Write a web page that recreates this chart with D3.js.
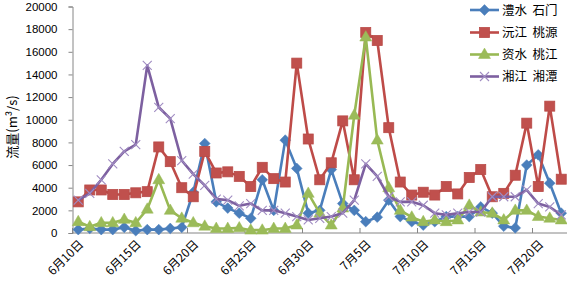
<!DOCTYPE html>
<html><head><meta charset="utf-8">
<script src="https://cdn.jsdelivr.net/npm/d3@7"></script>
<style>
html,body{margin:0;padding:0;background:#fff;}
svg{display:block;}
text{font-family:"Liberation Sans",Arial,"Noto Sans CJK SC",sans-serif;fill:#000;}
.cjk{font-family:"Noto Sans CJK SC","Liberation Sans",sans-serif;}
</style>
</head><body>
<svg id="c" width="567" height="288"></svg>
<script>
const dates = ["6月10日","6月11日","6月12日","6月13日","6月14日","6月15日","6月16日","6月17日","6月18日","6月19日",
"6月20日","6月21日","6月22日","6月23日","6月24日","6月25日","6月26日","6月27日","6月28日","6月29日",
"6月30日","7月1日","7月2日","7月3日","7月4日","7月5日","7月6日","7月7日","7月8日","7月9日",
"7月10日","7月11日","7月12日","7月13日","7月14日","7月15日","7月16日","7月17日","7月18日","7月19日",
"7月20日","7月21日","7月22日"];
const seriesNames = ["澧水  石门","沅江  桃源","资水  桃江","湘江  湘潭"];
const lishui = [300,400,300,300,500,200,300,300,400,500,
3600,7900,2750,2200,1750,1300,4700,2000,8200,5700,
1750,2000,5600,2600,2000,1000,1400,2900,1450,1000,
700,1000,1450,1450,1450,2300,1750,600,450,6000,
6900,4400,1750];
const yuanjiang = [2750,3800,3800,3400,3400,3550,3650,7600,6300,4000,
3200,7200,5300,5400,5000,4100,5800,4800,4500,15000,
8300,4700,6200,9900,4700,17700,17000,9300,4500,3350,
3600,3350,4100,3450,4900,5600,3200,3500,5100,9700,
4100,11200,4750];
const zishui = [1000,550,900,900,1200,900,2100,4700,2000,1300,
900,600,400,400,450,250,250,400,400,700,
3500,1750,700,2200,10400,17300,8200,4000,2000,1400,
1000,1150,1000,1150,2450,1850,1750,1150,2000,2000,
1450,1300,1150];
const xiangjiang = [2900,3500,4700,6100,7200,7800,14800,11100,10100,6400,
5200,4200,3000,2900,2400,2600,2000,2000,1750,1450,
1150,1300,1450,1750,2900,6100,5000,3200,2750,2750,
2450,1750,1600,1750,1850,1850,3200,3200,3200,3800,
2600,2300,1600];
const yTicks = [0,2000,4000,6000,8000,10000,12000,14000,16000,18000,20000];
const yTitle = "流量(m³/s)";

const svg = d3.select("#c");
const x = d3.scaleBand().domain(d3.range(dates.length)).range([72.5, 567]).paddingInner(0).paddingOuter(0);
const y = d3.scaleLinear().domain([0,20000]).range([233, 6.5]);
const cx = i => x(i) + x.bandwidth()/2;
const axisColor = "#868686";

// y axis
const yAxis = svg.append("g").attr("transform","translate(72.5,0)")
  .call(d3.axisLeft(y).tickValues(yTicks).tickSize(4).tickPadding(11).tickFormat(d3.format("d")));
yAxis.select(".domain").attr("stroke",axisColor);
yAxis.selectAll(".tick line").attr("stroke",axisColor);
yAxis.selectAll("text").style("font-size","11.5px").style("font-family","'Liberation Sans',Arial,sans-serif").attr("fill","#000");

// x axis
const tickIdx = d3.range(0, dates.length, 5);
const xg = svg.append("g").attr("transform","translate(0,233)");
xg.append("line").attr("x1",72.5).attr("x2",567).attr("y1",0).attr("y2",0).attr("stroke",axisColor);
xg.selectAll("line.tk").data(tickIdx).join("line").attr("class","tk")
  .attr("x1",i=>x(i)).attr("x2",i=>x(i)).attr("y1",0).attr("y2",-5).attr("stroke",axisColor);
xg.selectAll("text").data(tickIdx).join("text").attr("class","cjk")
  .attr("transform",i=>`translate(${cx(i)+3},${9}) rotate(-45)`)
  .attr("text-anchor","end").attr("dy","0.35em")
  .style("font-size","12px").text(i=>dates[i]);

// y title
svg.append("text").attr("class","cjk").attr("transform","translate(17,127) rotate(-90)")
  .attr("text-anchor","middle").style("font-size","13px").attr("fill","#333").text(yTitle);

const colors = ["#4A7EBB","#BE4B48","#98B954","#7D60A0"];
const data = [lishui, yuanjiang, zishui, xiangjiang];
const line = d3.line().x((d,i)=>cx(i)).y(d=>y(d));

function marker(g, k, px, py){
  if(k===0){
    g.append("path").attr("d",d3.symbol(d3.symbolSquare,58)()).attr("transform",`translate(${px},${py}) rotate(45)`).attr("fill","#4A7EBB").attr("stroke","#4A7EBB").attr("stroke-width",0.5);
  } else if(k===1){
    g.append("rect").attr("x",px-5).attr("y",py-5).attr("width",10).attr("height",10).attr("fill","#C0504D").attr("stroke","#B84A47").attr("stroke-width",0.8);
  } else if(k===2){
    g.append("path").attr("d",d3.symbol(d3.symbolTriangle,62)()).attr("transform",`translate(${px},${py+0.5})`).attr("fill","#9BBB59").attr("stroke","#98B954").attr("stroke-width",0.5);
  } else {
    const s=4.5;
    g.append("path").attr("d",`M${px-s},${py-s}L${px+s},${py+s}M${px-s},${py+s}L${px+s},${py-s}`).attr("stroke","#A08CC2").attr("stroke-width",1.1).attr("fill","none");
  }
}

data.forEach((vals,k)=>{
  const g = svg.append("g");
  g.append("path").datum(vals).attr("d",line).attr("fill","none").attr("stroke",colors[k]).attr("stroke-width",2.6).attr("stroke-linejoin","round");
  vals.forEach((v,i)=>marker(g,k,cx(i),y(v)));
});

// legend
const lg = svg.append("g");
const rows = [10,32.5,54.5,76.5];
seriesNames.forEach((n,k)=>{
  const ry = rows[k];
  lg.append("rect").attr("x",468).attr("y",ry-9).attr("width",99).attr("height",18).attr("fill","#fff");
  lg.append("line").attr("x1",470).attr("x2",499).attr("y1",ry).attr("y2",ry).attr("stroke",colors[k]).attr("stroke-width",2.6);
  marker(lg,k,484.5,ry);
  lg.append("text").attr("class","cjk").attr("x",502).attr("y",ry).attr("dy","0.36em")
    .style("font-size","12.5px").style("white-space","pre").attr("xml:space","preserve").text(n);
});
</script>
</body></html>
